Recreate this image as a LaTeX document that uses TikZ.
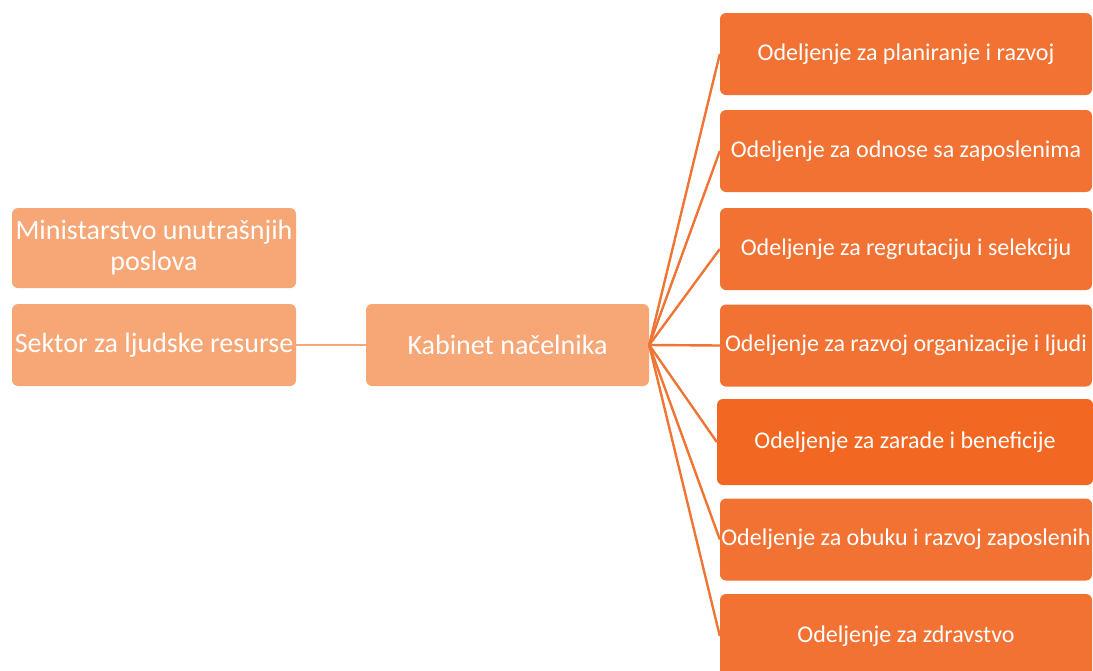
\documentclass[tikz,border=0pt]{standalone}
\usepackage{fontspec}
\setmainfont{Carlito}
\definecolor{lightor}{HTML}{F7A676}
\definecolor{midor}{HTML}{F27233}
\definecolor{darkor}{HTML}{F26822}
\definecolor{lineor}{HTML}{F07434}
\definecolor{linelt}{HTML}{F7A676}
\tikzset{
  lbox/.style={fill=lightor, rounded corners=6pt, text=white, align=center, inner sep=1pt, font=\fontsize{28}{31}\selectfont},
  rbox/.style={fill=midor, rounded corners=6pt, text=white, align=center, inner sep=1pt, font=\fontsize{24}{27}\selectfont, minimum width=372pt, minimum height=82pt},
  fan/.style={draw=lineor, line width=2.4pt},
}
\begin{document}
\begin{tikzpicture}[x=1pt,y=-1pt]
\useasboundingbox (0,0) rectangle (1093,670);
\node[lbox, minimum width=284pt, minimum height=80pt] (min) at (154,248) {Ministarstvo unutrašnjih\\poslova};
\node[lbox, minimum width=284pt, minimum height=82pt] (sek) at (154,345) {Sektor za ljudske resurse};
\node[lbox, minimum width=283pt, minimum height=82pt] (kab) at (507.5,345) {Kabinet načelnika};
\node[rbox] (r1) at (906,54) {Odeljenje za planiranje i razvoj};
\node[rbox] (r2) at (906,151) {Odeljenje za odnose sa zaposlenima};
\node[rbox] (r3) at (906,249) {Odeljenje za regrutaciju i selekciju};
\node[rbox] (r4) at (906,345.5) {Odeljenje za razvoj organizacije i ljudi};
\node[rbox, fill=darkor, minimum width=376pt, minimum height=86pt] (r5) at (905,442) {Odeljenje za zarade i beneficije};
\node[rbox] (r6) at (906,539.5) {Odeljenje za obuku i razvoj zaposlenih};
\node[rbox, minimum height=84pt] (r7) at (906,636) {Odeljenje za zdravstvo};
\draw[draw=linelt, line width=2.4pt] (sek.east) -- (kab.west);
\foreach \r in {r1,r2,r3,r4,r5,r6,r7}{
  \draw[fan] (kab.east) -- (\r.west);
}
\end{tikzpicture}
\end{document}
